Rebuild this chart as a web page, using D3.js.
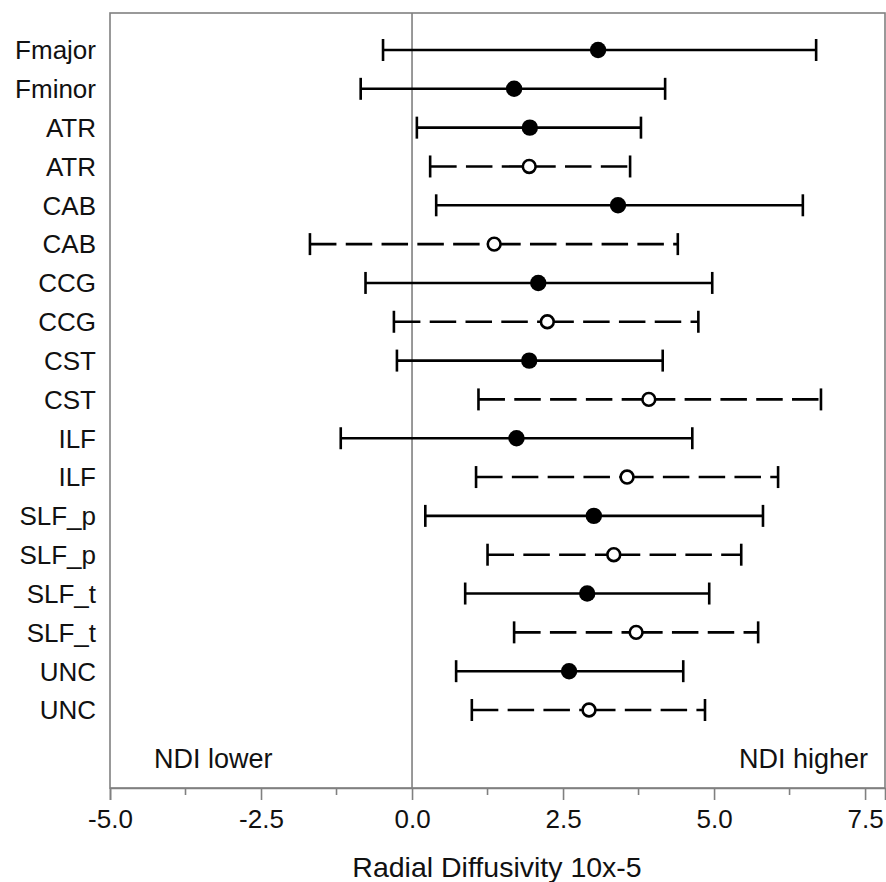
<!DOCTYPE html>
<html>
<head>
<meta charset="utf-8">
<script src="https://cdn.jsdelivr.net/npm/d3@7"></script>
<style>
body { margin: 0; background: #fff; }
text { font-family: "Liberation Sans", Arial, sans-serif; fill: #111; }
</style>
</head>
<body>
<svg id="chart" width="886" height="882"></svg>
<script>
// tract labels, top to bottom
var tracts = ["Fmajor", "Fminor", "ATR", "ATR", "CAB", "CAB", "CCG", "CCG", "CST", "CST",
	"ILF", "ILF", "SLF_p", "SLF_p", "SLF_t", "SLF_t", "UNC", "UNC"];
// true = filled marker / solid line, false = open marker / dashed line
var filled = [true, true, true, false, true, false, true, false, true, false,
	true, false, true, false, true, false, true, false];
var estimate = [3.08, 1.69, 1.95, 1.94, 3.41, 1.36, 2.09, 2.24, 1.94, 3.92,
	1.73, 3.56, 3.01, 3.34, 2.90, 3.71, 2.60, 2.93];
var lower = [-0.48, -0.85, 0.08, 0.30, 0.40, -1.69, -0.77, -0.30, -0.25, 1.10,
	-1.18, 1.06, 0.22, 1.25, 0.88, 1.69, 0.73, 0.99];
var upper = [6.69, 4.19, 3.79, 3.61, 6.47, 4.40, 4.97, 4.74, 4.15, 6.77,
	4.64, 6.06, 5.81, 5.45, 4.92, 5.73, 4.49, 4.85];
var majorTicks = [-5.0, -2.5, 0.0, 2.5, 5.0, 7.5];
var minorTicks = [-3.75, -1.25, 1.25, 3.75, 6.25];

var svg = d3.select("#chart");

// plot frame (don't call it "top", window.top is taken)
var frameL = 110, frameR = 885, frameT = 13, frameB = 788;

var x = d3.scaleLinear()
	.domain([-5, 7.83])
	.range([frameL, frameR]);

var y = d3.scalePoint()
	.domain(d3.range(tracts.length))
	.range([50, 710]);

var rows = d3.range(tracts.length);

// frame
svg.append("rect")
	.attr("x", frameL).attr("y", frameT)
	.attr("width", frameR - frameL).attr("height", frameB - frameT)
	.attr("fill", "none")
	.attr("stroke", "#808080")
	.attr("stroke-width", 1.6);

// zero line
svg.append("line")
	.attr("x1", x(0)).attr("x2", x(0))
	.attr("y1", frameT).attr("y2", frameB)
	.attr("stroke", "#808080")
	.attr("stroke-width", 1.6);

// x axis, major + minor ticks
var axisG = svg.append("g").attr("transform", "translate(0," + frameB + ")");
axisG.call(d3.axisBottom(x)
	.tickValues(majorTicks)
	.tickSize(12)
	.tickPadding(10)
	.tickFormat(d => d.toFixed(1)));
axisG.select(".domain").attr("stroke", "#808080").attr("stroke-width", 1.6);
axisG.selectAll(".tick line").attr("stroke", "#808080").attr("stroke-width", 1.6);
axisG.selectAll(".tick text")
	.attr("font-size", 26)
	.attr("font-family", "Liberation Sans, Arial, sans-serif")
	.attr("fill", "#111");

axisG.selectAll(".minor")
	.data(minorTicks)
	.enter()
	.append("line")
		.attr("class", "minor")
		.attr("x1", d => x(d)).attr("x2", d => x(d))
		.attr("y1", 0).attr("y2", 7)
		.attr("stroke", "#808080")
		.attr("stroke-width", 1.6);

// axis title
svg.append("text")
	.attr("x", 497)
	.attr("y", 877)
	.attr("text-anchor", "middle")
	.attr("font-size", 28.5)
	.text("Radial Diffusivity 10x-5");

// corner notes
svg.append("text")
	.attr("x", 154).attr("y", 768)
	.attr("font-size", 27)
	.text("NDI lower");
svg.append("text")
	.attr("x", 868).attr("y", 768)
	.attr("text-anchor", "end")
	.attr("font-size", 27)
	.text("NDI higher");

// tract labels
svg.selectAll(".tract")
	.data(rows)
	.enter()
	.append("text")
		.attr("class", "tract")
		.attr("x", 96)
		.attr("y", d => y(d))
		.attr("dy", "0.36em")
		.attr("text-anchor", "end")
		.attr("font-size", 26)
		.text(d => tracts[d]);

// whiskers: drawn as two halves, each half starts its own dash pattern
var bars = svg.append("g");
var halves = [];
rows.forEach(function(i) {
	halves.push({row: i, from: lower[i], to: estimate[i]});
	halves.push({row: i, from: estimate[i], to: upper[i]});
});
bars.selectAll(".ci")
	.data(halves)
	.enter()
	.append("line")
		.attr("class", "ci")
		.attr("x1", d => x(d.from))
		.attr("x2", d => x(d.to))
		.attr("y1", d => y(d.row)).attr("y2", d => y(d.row))
		.attr("stroke", "#000")
		.attr("stroke-width", 2.6)
		.attr("stroke-dasharray", d => filled[d.row] ? null : "26.5,9.3");

// caps
var capHalf = 11;
bars.selectAll(".capL")
	.data(rows)
	.enter()
	.append("line")
		.attr("x1", d => x(lower[d])).attr("x2", d => x(lower[d]))
		.attr("y1", d => y(d) - capHalf).attr("y2", d => y(d) + capHalf)
		.attr("stroke", "#000").attr("stroke-width", 2.6);
bars.selectAll(".capR")
	.data(rows)
	.enter()
	.append("line")
		.attr("x1", d => x(upper[d])).attr("x2", d => x(upper[d]))
		.attr("y1", d => y(d) - capHalf).attr("y2", d => y(d) + capHalf)
		.attr("stroke", "#000").attr("stroke-width", 2.6);

// markers
bars.selectAll("circle")
	.data(rows)
	.enter()
	.append("circle")
		.attr("cx", d => x(estimate[d]))
		.attr("cy", d => y(d))
		.attr("r", d => filled[d] ? 8.2 : 6.4)
		.attr("fill", d => filled[d] ? "#000" : "#fff")
		.attr("stroke", "#000")
		.attr("stroke-width", d => filled[d] ? 0 : 2.6);
</script>
</body>
</html>
